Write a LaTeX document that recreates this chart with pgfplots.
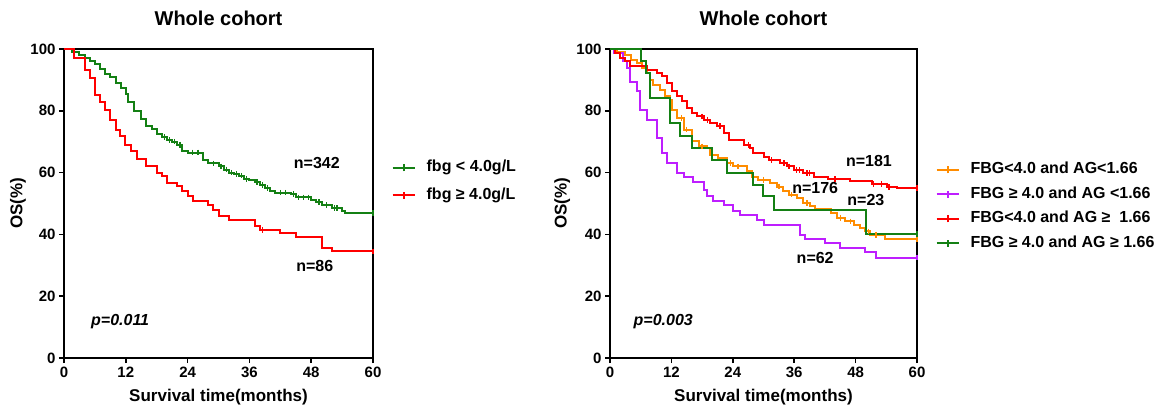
\documentclass[border=0pt]{standalone}
\usepackage{fontspec}
\setmainfont{Liberation Sans}
\usepackage{pgfplots}
\pgfplotsset{compat=1.18}
\definecolor{kmgreen}{RGB}{20,128,20}
\definecolor{kmred}{RGB}{255,0,0}
\definecolor{kmorange}{RGB}{255,140,0}
\definecolor{kmpurple}{RGB}{190,30,255}
\pgfplotsset{
 legend image code/.code={\draw[#1] (0pt,0pt)--(22pt,0pt); \draw[#1] (11pt,-3.5pt)--(11pt,3.5pt);},
 kmaxis/.style={
  scale only axis, height=309pt,
  xmin=0,xmax=60,ymin=0,ymax=100,
  xtick={0,12,...,60}, ytick={0,20,...,100},
  axis line style={line width=1.7pt},
  tick style={line width=1.5pt, black},
  major tick length=5pt,
  tick align=outside, xtick pos=bottom, ytick pos=left,
  ticklabel style={font=\fontsize{15}{17}\selectfont\bfseries},
  /pgf/number format/assume math mode=true,
  clip=false,
  legend style={draw=none, fill=none, font=\fontsize{16}{19}\selectfont\bfseries, anchor=north west, column sep=9pt,
    nodes={text height=12pt, text depth=4pt}},
  legend cell align=left,
 },
 km/.style={const plot, line width=2pt, color=#1},
 cens/.style={only marks, mark=|, mark size=2.8pt, mark options={line width=1.3pt}, forget plot, color=#1},
}
\begin{document}
\begin{tikzpicture}
\useasboundingbox (0pt,0pt) rectangle (1161pt,415pt);
% ---------------- left panel ----------------
\begin{axis}[kmaxis, width=309pt, at={(64pt,57pt)}, anchor=south west,
  legend style={at={(rel axis cs:1.05,0.655)}, row sep=7.5pt}]
\addplot[km=kmgreen] coordinates {(0,100)(1.5,99)(3,98)(4,97)(5,96)(6,95)(7,93.5)(8,92)(9,91)(10,89)(11,87.5)(12,85.5)(12.5,83)(13.5,80)(15,77.5)(16,75)(17,74)(18,72.5)(19,71.5)(20,70.5)(21,70)(22,69)(23,67)(24,66.5)(27,64)(28,63)(30,62)(31,61)(32,60)(33,59.5)(34,59)(35,58)(36,57.5)(37,57)(38,56)(39,55)(40,54)(41,53.5)(44,53)(45,52)(48,51)(49,50.5)(50,49.5)(52,48.5)(54,47.5)(54.5,47)(60,47)};
\addlegendentry{fbg < 4.0g/L}
\addplot[km=kmred] coordinates {(0,100)(2,97)(4,93.3)(5,90.6)(6,85.2)(7,83)(8,80.4)(9,77.1)(10,73.9)(10.8,71.7)(11.8,69)(13.1,66.9)(14.1,64.4)(16,62.2)(18,59.9)(19,58.8)(20,56.6)(22,55.6)(23,53.9)(24,52.3)(25,50.9)(28,49.6)(29,48)(30,45.8)(32,44.8)(37,42.6)(38,41.5)(42,40.5)(45,39.2)(50,35.6)(52,34.5)(60,34.5)};
\addlegendentry{fbg ≥ 4.0g/L}
\addplot[cens=kmgreen] coordinates {(19.5,71.5)(20.5,70.5)(21.5,70)(22.5,69)(25,66.5)(26,66.5)(29,63)(30.5,62)(31.5,61)(32.5,60)(33.5,59.5)(34.5,59)(35.5,58)(37.5,57)(38.5,56)(39.5,55)(42,53.5)(43,53.5)(44.5,53)(45.5,52)(46.5,52)(47.5,52)(49.5,50.5)(51,49.5)(52.5,48.5)(53,48.5)(60,47)};
\addplot[cens=kmred] coordinates {(38.5,41.5)(60,34.5)};
\node[font=\fontsize{16}{19}\selectfont\bfseries] at (axis cs:49.1,63.1) {n=342};
\node[font=\fontsize{16}{19}\selectfont\bfseries] at (axis cs:48.7,29.8) {n=86};
\node[font=\fontsize{16}{19}\selectfont\bfseries\itshape] at (axis cs:10.9,11.7) {p=0.011};
\node[font=\fontsize{20}{24}\selectfont\bfseries] at (rel axis cs:0.5,1.1) {Whole cohort};
\node[font=\fontsize{17}{20}\selectfont\bfseries] at (rel axis cs:0.5,-0.126) {Survival time(months)};
\node[font=\fontsize{17}{20}\selectfont\bfseries, rotate=90] at (rel axis cs:-0.149,0.5) {OS(\%)};
\end{axis}
% ---------------- right panel ----------------
\begin{axis}[kmaxis, width=307pt, at={(610pt,57pt)}, anchor=south west,
  legend style={at={(rel axis cs:1.05,0.648)}, row sep=4.5pt}]
\addplot[km=kmorange] coordinates {(0,100)(1.3,99)(3,98)(4.2,96.5)(5.2,95.5)(6.2,93.9)(7.2,92.2)(7.8,90)(8.5,88.5)(9.8,86.8)(10.8,84.7)(11.7,83.6)(12.1,80.4)(13,77.7)(14.4,73.9)(16,70.1)(17.3,68.5)(18.9,68)(19.6,65.8)(21.2,64.7)(22.8,63.1)(24.1,62)(26.7,60.4)(27.7,58.7)(29,57.7)(31.3,56.6)(32.6,55.5)(33.9,53.9)(34.9,52.9)(36.5,51.8)(37.8,50.2)(39.1,49.1)(40.1,48.1)(43.1,47)(44.3,45.3)(46,44.2)(47.6,43.1)(48.9,42.1)(49.9,41)(50.9,39.9)(53.8,38.6)(60,38.6)};
\addlegendentry{FBG<4.0 and AG<1.66}
\addplot[km=kmpurple] coordinates {(0,100)(0.7,98.7)(2.6,96)(3.3,93.9)(3.9,89.3)(5.2,86.3)(5.9,80.4)(7.2,77.1)(9.1,71.2)(10.1,66.3)(11.1,63.1)(13,59.8)(14.4,58.7)(16.3,57.1)(18.3,54.5)(18.9,52.3)(20.2,50.7)(22.2,49.6)(24.1,47.5)(25.4,46.4)(28.7,44.8)(30,43.1)(37.2,39.9)(38.2,38.5)(42.1,37.2)(45,35.6)(49.9,34.2)(51.9,32.5)(60,32.5)};
\addlegendentry{FBG ≥ 4.0 and AG <1.66}
\addplot[km=kmred] coordinates {(0,100)(1,98.7)(2,97.1)(3,96)(4,94.4)(7.2,93.3)(9.1,92.2)(10.1,91.2)(11.1,89)(12.1,86.3)(13,84.7)(14,83.1)(15,80.9)(16,79.3)(17,78.2)(18.3,77.1)(19.6,76.1)(20.9,75)(22.2,72.8)(23.2,70.7)(26.1,69)(27.4,67.9)(28,66.3)(30,65.2)(31,64.1)(33.3,63.1)(34.6,62)(35.9,60.9)(37.8,59.8)(39.8,58.7)(42.7,57.9)(47,57.2)(51.2,56.3)(54.1,55.3)(56,55)(60,55)};
\addlegendentry{FBG<4.0 and AG ≥ \ 1.66}
\addplot[km=kmgreen] coordinates {(0,100)(6,96)(7,92.2)(7.8,84.1)(11.7,76.1)(13.7,71.7)(16,68)(19.9,64.2)(22.8,59.8)(28,56.1)(29.9,52.3)(32,48)(50,40.2)(60,40.2)};
\addlegendentry{FBG ≥ 4.0 and AG ≥ 1.66}
\addplot[cens=kmred] coordinates {(18,78.2)(19,77.1)(21.5,75)(27,69)(31.5,64.1)(34,63.1)(35,62)(36.5,60.9)(37,60.9)(38.5,59.8)(39,59.8)(44,57.9)(51.5,56.3)(53,56.3)(54.5,55.3)(60,55)};
\addplot[cens=kmorange] coordinates {(14,77.7)(15,73.9)(18,68.5)(23.5,63.1)(25,62)(30,57.7)(33,55.5)(35.5,52.9)(38.5,50.2)(45,45.3)(47,44.2)(50.5,41)(52,39.9)(60,38.6)};
\addplot[cens=kmgreen] coordinates {(60,40.2)};
\addplot[cens=kmpurple] coordinates {(60,32.5)};
\node[font=\fontsize{16}{19}\selectfont\bfseries] at (axis cs:50.6,63.8) {n=181};
\node[font=\fontsize{16}{19}\selectfont\bfseries] at (axis cs:40.1,55) {n=176};
\node[font=\fontsize{16}{19}\selectfont\bfseries] at (axis cs:50,51.1) {n=23};
\node[font=\fontsize{16}{19}\selectfont\bfseries] at (axis cs:40.1,32.4) {n=62};
\node[font=\fontsize{16}{19}\selectfont\bfseries\itshape] at (axis cs:10.4,11.7) {p=0.003};
\node[font=\fontsize{20}{24}\selectfont\bfseries] at (rel axis cs:0.5,1.1) {Whole cohort};
\node[font=\fontsize{17}{20}\selectfont\bfseries] at (rel axis cs:0.5,-0.126) {Survival time(months)};
\node[font=\fontsize{17}{20}\selectfont\bfseries, rotate=90] at (rel axis cs:-0.156,0.5) {OS(\%)};
\end{axis}
\end{tikzpicture}
\end{document}
